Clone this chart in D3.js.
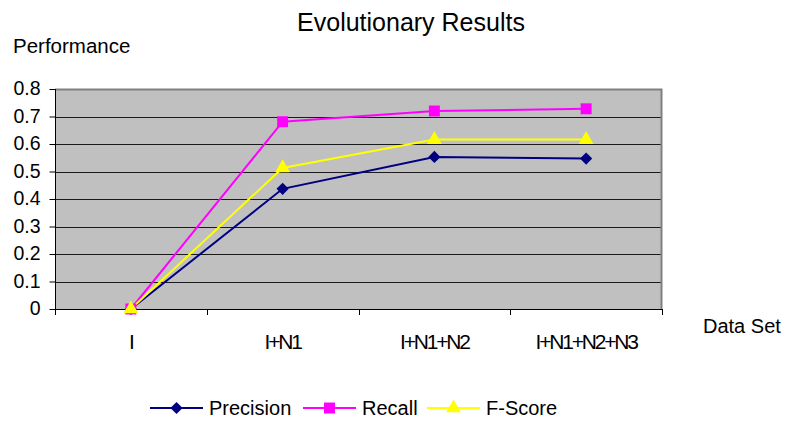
<!DOCTYPE html>
<html>
<head>
<meta charset="utf-8">
<script src="https://cdn.jsdelivr.net/npm/d3@7"></script>
<style>
  body { margin: 0; background: #fff; }
  text { font-family: "Liberation Sans", Arial, sans-serif; fill: #000; }
</style>
</head>
<body>
<svg width="785" height="421"></svg>
<script>
const svg = d3.select("svg");

// data
const dataSets = ["I", "I+N1", "I+N1+N2", "I+N1+N2+N3"];
const precision = [0, 0.437, 0.553, 0.547];
const recall = [0, 0.681, 0.72, 0.728];
const fScore = [0, 0.513, 0.616, 0.616];
const yTicks = [0, 0.1, 0.2, 0.3, 0.4, 0.5, 0.6, 0.7, 0.8];

// diamond is a square turned 45 degrees
const series = [
    { name: "Precision", values: precision, color: "#000080", symbol: d3.symbolSquare, size: 75, rotate: 45 },
    { name: "Recall", values: recall, color: "#ff00ff", symbol: d3.symbolSquare, size: 120, rotate: 0 },
    { name: "F-Score", values: fScore, color: "#ffff00", symbol: d3.symbolTriangle, size: 95, rotate: 0 }
];

const plot = { left: 55, right: 662, top: 89, bottom: 309 };

const xScale = d3.scaleBand()
    .domain(dataSets)
    .range([plot.left, plot.right]);

const yScale = d3.scaleLinear()
    .domain([0, 0.8])
    .range([plot.bottom, plot.top]);

const xPos = i => xScale(dataSets[i]) + xScale.bandwidth() / 2;

// plot background
svg.append("rect")
    .attr("x", plot.left)
    .attr("y", plot.top)
    .attr("width", plot.right - plot.left)
    .attr("height", plot.bottom - plot.top)
    .attr("fill", "#c0c0c0");

// gridlines
svg.append("g").selectAll("line")
    .data(yTicks.filter(t => t > 0 && t < 0.8))
    .enter().append("line")
    .attr("x1", plot.left)
    .attr("x2", plot.right)
    .attr("y1", d => Math.round(yScale(d)) + 0.5)
    .attr("y2", d => Math.round(yScale(d)) + 0.5)
    .attr("stroke", "#1a1a1a")
    .attr("stroke-width", 1);

// grey frame top and right
svg.append("path")
    .attr("d", `M${plot.left},${plot.top + 0.5}H${plot.right - 0.5}V${plot.bottom}`)
    .attr("fill", "none")
    .attr("stroke", "#808080")
    .attr("stroke-width", 2);

// y axis
const yAxis = svg.append("g")
    .attr("transform", `translate(${plot.left + 0.5},0)`)
    .call(d3.axisLeft(yScale).tickValues(yTicks).tickSize(6).tickPadding(9)
        .tickFormat(d => d === 0 ? "0" : d3.format(".1f")(d)));
yAxis.select(".domain").attr("stroke", "#000").attr("d", `M0,${plot.top}V${plot.bottom}`);
yAxis.selectAll("line").attr("stroke", "#000");
yAxis.selectAll("text")
    .attr("font-size", 19.5)
    .attr("font-family", "Liberation Sans, Arial, sans-serif")
    .attr("dy", "0.3em");

// x axis with ticks at category boundaries
const xAxisG = svg.append("g");
xAxisG.append("line")
    .attr("x1", plot.left).attr("x2", plot.right)
    .attr("y1", plot.bottom + 0.5).attr("y2", plot.bottom + 0.5)
    .attr("stroke", "#000");
xAxisG.selectAll(".xtick")
    .data(dataSets.concat([null]))
    .enter().append("line")
    .attr("class", "xtick")
    .attr("x1", (d, i) => Math.round(plot.left + i * xScale.bandwidth()) + 0.5)
    .attr("x2", (d, i) => Math.round(plot.left + i * xScale.bandwidth()) + 0.5)
    .attr("y1", plot.bottom)
    .attr("y2", plot.bottom + 6)
    .attr("stroke", "#000");
xAxisG.selectAll(".xlabel")
    .data(dataSets)
    .enter().append("text")
    .attr("class", "xlabel")
    .attr("x", (d, i) => xPos(i))
    .attr("y", 349)
    .attr("text-anchor", "middle")
    .attr("font-size", 21)
    .attr("letter-spacing", "-2.2px")
    .text(d => d);

// lines and markers
const line = d3.line()
    .x((d, i) => xPos(i))
    .y(d => yScale(d));

series.forEach(s => {
    svg.append("path")
        .datum(s.values)
        .attr("d", line)
        .attr("fill", "none")
        .attr("stroke", s.color)
        .attr("stroke-width", 2);
});
series.forEach(s => {
    svg.append("g").selectAll("path")
        .data(s.values)
        .enter().append("path")
        .attr("d", d3.symbol().type(s.symbol).size(s.size))
        .attr("transform", (d, i) => `translate(${xPos(i)},${yScale(d)}) rotate(${s.rotate})`)
        .attr("fill", s.color);
});

// titles
svg.append("text")
    .attr("x", 411)
    .attr("y", 30.5)
    .attr("text-anchor", "middle")
    .attr("font-size", 25)
    .text("Evolutionary Results");

svg.append("text")
    .attr("x", 13)
    .attr("y", 52.5)
    .attr("font-size", 20.5)
    .text("Performance");

svg.append("text")
    .attr("x", 703)
    .attr("y", 333)
    .attr("font-size", 20)
    .text("Data Set");

// legend
const legendX = [150, 303, 427];
const legend = svg.append("g");
series.forEach((s, i) => {
    const g = legend.append("g").attr("transform", `translate(${legendX[i]},408)`);
    g.append("line")
        .attr("x1", 0).attr("x2", 53)
        .attr("y1", 0).attr("y2", 0)
        .attr("stroke", s.color)
        .attr("stroke-width", 2);
    g.append("path")
        .attr("d", d3.symbol().type(s.symbol).size(s.size))
        .attr("transform", `translate(26.5,0) rotate(${s.rotate})`)
        .attr("fill", s.color);
    g.append("text")
        .attr("x", 59)
        .attr("y", 7)
        .attr("font-size", 20)
        .text(s.name);
});
</script>
</body>
</html>
